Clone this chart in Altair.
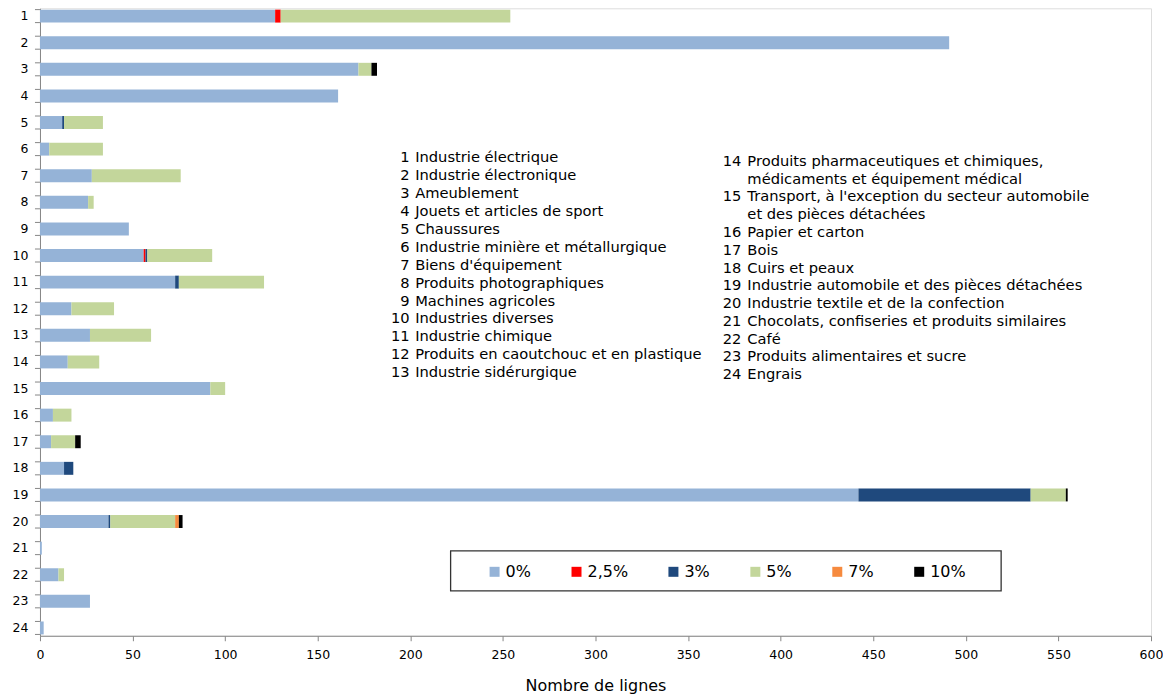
import altair as alt
import pandas as pd

# ---- data ----
categories = [str(i) for i in range(1, 25)]
names = [
    "Industrie électrique", "Industrie électronique", "Ameublement",
    "Jouets et articles de sport", "Chaussures",
    "Industrie minière et métallurgique", "Biens d'équipement",
    "Produits photographiques", "Machines agricoles", "Industries diverses",
    "Industrie chimique", "Produits en caoutchouc et en plastique",
    "Industrie sidérurgique",
    "Produits pharmaceutiques et chimiques,|médicaments et équipement médical",
    "Transport, à l'exception du secteur automobile|et des pièces détachées",
    "Papier et carton", "Bois", "Cuirs et peaux",
    "Industrie automobile et des pièces détachées",
    "Industrie textile et de la confection",
    "Chocolats, confiseries et produits similaires", "Café",
    "Produits alimentaires et sucre", "Engrais",
]
rates = ["0%", "2,5%", "3%", "5%", "7%", "10%"]
colors = ["#95B3D7", "#FF0000", "#1F497D", "#C3D69B", "#F68A3E", "#000000"]

v_0 = [127, 491, 172, 161, 12, 5, 28, 26, 48, 56, 73, 17, 27, 15, 92, 7, 6, 13, 442, 37, 1, 10, 27, 2]
v_25 = [3, 0, 0, 0, 0, 0, 0, 0, 0, 1, 0, 0, 0, 0, 0, 0, 0, 0, 0, 0, 0, 0, 0, 0]
v_3 = [0, 0, 0, 0, 1, 0, 0, 0, 0, 1, 2, 0, 0, 0, 0, 0, 0, 5, 93, 1, 0, 0, 0, 0]
v_5 = [124, 0, 7, 0, 21, 29, 48, 3, 0, 35, 46, 23, 33, 17, 8, 10, 13, 0, 19, 35, 0, 3, 0, 0]
v_7 = [0, 0, 0, 0, 0, 0, 0, 0, 0, 0, 0, 0, 0, 0, 0, 0, 0, 0, 0, 2, 0, 0, 0, 0]
v_10 = [0, 0, 3, 0, 0, 0, 0, 0, 0, 0, 0, 0, 0, 0, 0, 0, 3, 0, 1, 2, 0, 0, 0, 0]

series = [v_0, v_25, v_3, v_5, v_7, v_10]
rows = []
for ri, (rate, vals) in enumerate(zip(rates, series)):
    for c, v in zip(categories, vals):
        if v > 0:
            rows.append({"cat": c, "rate": rate, "value": v, "ord": ri})
df = pd.DataFrame(rows)
df_cats = pd.DataFrame({"cat": categories})

FONT = "DejaVu Sans"
AX = "#868686"
TXT = 14.7

# text block: numbers grouped in runs of consecutive lines; continuation lines get none
def build_column(idx_range):
    groups, lines = [], []
    for i in idx_range:
        parts = names[i].split("|")
        line_no = len(lines)
        if groups and groups[-1][0] + len(groups[-1][1]) == line_no:
            groups[-1][1].append(categories[i])
        else:
            groups.append((line_no, [categories[i]]))
        lines.extend(parts)
    return groups, lines


left_groups, left_names = build_column(range(0, 13))
right_groups, right_names = build_column(range(13, 24))

y_enc = alt.Y(
    "cat:N", sort=categories,
    scale=alt.Scale(paddingInner=0.513, paddingOuter=0.05),
    axis=alt.Axis(title=None, ticks=False, tickSize=0, labelPadding=12,
                  labelFontSize=12.5, labelFont=FONT, labelColor="black",
                  domainColor=AX, labelAngle=0),
)

bars = alt.Chart(df).mark_bar().encode(
    x=alt.X("value:Q", stack="zero",
            scale=alt.Scale(domain=[0, 600], nice=False),
            axis=alt.Axis(values=list(range(0, 601, 50)), title="Nombre de lignes",
                          grid=False, tickSize=5, tickColor=AX, domainColor=AX,
                          labelFontSize=12.5, labelFont=FONT, labelColor="black",
                          labelPadding=8, labelFlush=False,
                          titleFont=FONT, titleFontSize=16, titleFontWeight="normal",
                          titleColor="black", titlePadding=16)),
    y=y_enc,
    color=alt.Color("rate:N", sort=rates,
                    scale=alt.Scale(domain=rates, range=colors),
                    legend=alt.Legend(title=None, orient="none", direction="horizontal",
                                      legendX=447, legendY=556,
                                      symbolType="square", symbolSize=100,
                                      symbolStrokeWidth=0, labelFontSize=16,
                                      labelFont=FONT, labelColor="black",
                                      labelOffset=3, columnPadding=37)),
    order=alt.Order("ord:Q"),
)

tick_top = alt.Chart(df_cats).mark_rule(color=AX, yOffset=-6.5).encode(
    y=alt.Y("cat:N", sort=categories), x=alt.value(-5), x2=alt.value(0))
tick_bot = alt.Chart(df_cats).mark_rule(color=AX, yOffset=6.5).encode(
    y=alt.Y("cat:N", sort=categories), x=alt.value(-5), x2=alt.value(0))

one = pd.DataFrame({"k": [0]})
legend_box = alt.Chart(one).mark_rect(fill="white", stroke="#333333", strokeWidth=1.3).encode(
    x=alt.value(411), x2=alt.value(962), y=alt.value(543), y2=alt.value(583))


def text_block(lines, align, xpos, ypos, lh):
    return alt.Chart(one).mark_text(
        text=lines, align=align, baseline="middle", font=FONT, fontSize=TXT,
        lineHeight=lh, color="black").encode(x=alt.value(xpos), y=alt.value(ypos))


LH_L, LH_R = 17.9, 17.8
Y_L, Y_R = 150.3, 153.7
layers = [legend_box, bars, tick_top, tick_bot]
for start, nums in left_groups:
    layers.append(text_block(nums, "right", 370, Y_L + start * LH_L, LH_L))
layers.append(text_block(left_names, "left", 375.5, Y_L, LH_L))
for start, nums in right_groups:
    layers.append(text_block(nums, "right", 702, Y_R + start * LH_R, LH_R))
layers.append(text_block(right_names, "left", 708, Y_R, LH_R))

chart = alt.layer(*layers).properties(
    width=1112, height=628,
    padding={"left": 32, "top": 0, "right": 12, "bottom": 58},
    autosize=alt.AutoSizeParams(type="none"),
).configure_view(stroke=None).configure(background="white")

chart.save("out.html", embed_options={"renderer": "svg", "actions": False})
